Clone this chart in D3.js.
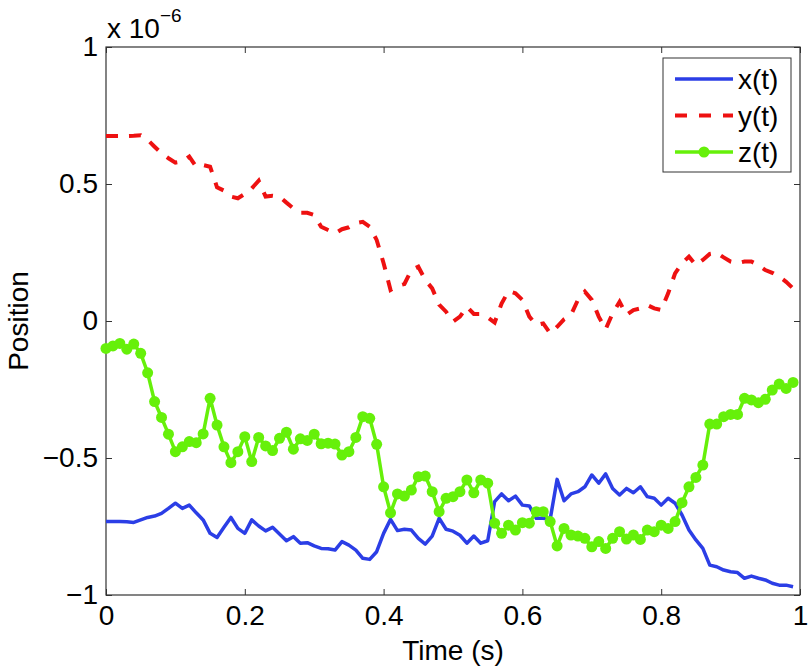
<!DOCTYPE html>
<html>
<head>
<meta charset="utf-8">
<script src="https://cdn.jsdelivr.net/npm/d3@7"></script>
<style>
  body { margin: 0; background: #fff; }
  text { font-family: "Liberation Sans", Arial, Helvetica, sans-serif; fill: #000; }
</style>
</head>
<body>
<div id="chart"><svg></svg></div>
<script>
// sample times (s)
const time = [
  0.00, 0.01, 0.02, 0.03, 0.04, 0.05, 0.06, 0.07, 0.08, 0.09,
  0.10, 0.11, 0.12, 0.13, 0.14, 0.15, 0.16, 0.17, 0.18, 0.19,
  0.20, 0.21, 0.22, 0.23, 0.24, 0.25, 0.26, 0.27, 0.28, 0.29,
  0.30, 0.31, 0.32, 0.33, 0.34, 0.35, 0.36, 0.37, 0.38, 0.39,
  0.40, 0.41, 0.42, 0.43, 0.44, 0.45, 0.46, 0.47, 0.48, 0.49,
  0.50, 0.51, 0.52, 0.53, 0.54, 0.55, 0.56, 0.57, 0.58, 0.59,
  0.60, 0.61, 0.62, 0.63, 0.64, 0.65, 0.66, 0.67, 0.68, 0.69,
  0.70, 0.71, 0.72, 0.73, 0.74, 0.75, 0.76, 0.77, 0.78, 0.79,
  0.80, 0.81, 0.82, 0.83, 0.84, 0.85, 0.86, 0.87, 0.88, 0.89,
  0.90, 0.91, 0.92, 0.93, 0.94, 0.95, 0.96, 0.97, 0.98, 0.99
];

// positions in units of 1e-6
const xPos = [
  -0.732, -0.732, -0.732, -0.733, -0.735, -0.726, -0.717, -0.712, -0.702, -0.684,
  -0.665, -0.684, -0.672, -0.700, -0.726, -0.775, -0.790, -0.753, -0.717, -0.757,
  -0.775, -0.726, -0.748, -0.766, -0.753, -0.777, -0.802, -0.787, -0.811, -0.809,
  -0.821, -0.830, -0.831, -0.836, -0.805, -0.818, -0.836, -0.866, -0.870, -0.842,
  -0.775, -0.724, -0.765, -0.760, -0.763, -0.793, -0.814, -0.785, -0.720, -0.760,
  -0.767, -0.782, -0.811, -0.785, -0.811, -0.802, -0.659, -0.631, -0.656, -0.639,
  -0.672, -0.675, -0.720, -0.720, -0.724, -0.578, -0.656, -0.631, -0.623, -0.605,
  -0.562, -0.592, -0.558, -0.611, -0.635, -0.611, -0.627, -0.605, -0.641, -0.647,
  -0.672, -0.647, -0.665, -0.708, -0.763, -0.799, -0.830, -0.891, -0.897, -0.909,
  -0.915, -0.918, -0.939, -0.931, -0.939, -0.945, -0.957, -0.964, -0.964, -0.970
];

const yPos = [
  0.675, 0.675, 0.675, 0.675, 0.676, 0.678, 0.661, 0.636, 0.612, 0.594,
  0.578, 0.582, 0.600, 0.563, 0.569, 0.563, 0.488, 0.476, 0.454, 0.448,
  0.464, 0.484, 0.512, 0.454, 0.457, 0.454, 0.432, 0.411, 0.395, 0.395,
  0.387, 0.344, 0.332, 0.320, 0.335, 0.342, 0.357, 0.362, 0.344, 0.296,
  0.211, 0.113, 0.128, 0.135, 0.186, 0.198, 0.150, 0.119, 0.060, 0.034,
  -0.002, 0.016, 0.052, 0.026, 0.026, 0.013, -0.006, 0.064, 0.109, 0.101,
  0.077, 0.016, -0.015, -0.009, -0.045, -0.021, 0.006, 0.022, 0.077, 0.107,
  0.077, 0.016, -0.030, 0.028, 0.070, 0.022, 0.040, 0.046, 0.058, 0.046,
  0.040, 0.101, 0.174, 0.211, 0.235, 0.204, 0.223, 0.245, 0.249, 0.232,
  0.217, 0.211, 0.217, 0.217, 0.204, 0.186, 0.176, 0.162, 0.143, 0.119
];

const zPos = [
  -0.100, -0.091, -0.082, -0.103, -0.084, -0.118, -0.189, -0.294, -0.352, -0.413,
  -0.477, -0.459, -0.440, -0.444, -0.412, -0.282, -0.380, -0.459, -0.517, -0.477,
  -0.422, -0.513, -0.425, -0.456, -0.473, -0.428, -0.406, -0.468, -0.430, -0.436,
  -0.413, -0.448, -0.446, -0.449, -0.489, -0.477, -0.425, -0.349, -0.355, -0.450,
  -0.605, -0.700, -0.631, -0.639, -0.617, -0.568, -0.566, -0.623, -0.696, -0.647,
  -0.641, -0.623, -0.580, -0.627, -0.580, -0.592, -0.738, -0.775, -0.745, -0.763,
  -0.736, -0.738, -0.696, -0.696, -0.732, -0.821, -0.757, -0.781, -0.785, -0.793,
  -0.824, -0.805, -0.830, -0.793, -0.769, -0.796, -0.781, -0.797, -0.763, -0.769,
  -0.745, -0.757, -0.732, -0.663, -0.605, -0.571, -0.526, -0.376, -0.376, -0.349,
  -0.341, -0.341, -0.282, -0.288, -0.298, -0.286, -0.252, -0.230, -0.246, -0.224
];

const xTicks = [0, 0.2, 0.4, 0.6, 0.8, 1];
const xTickLabels = ["0", "0.2", "0.4", "0.6", "0.8", "1"];
const yTicks = [-1, -0.5, 0, 0.5, 1];
const yTickLabels = ["\u22121", "\u22120.5", "0", "0.5", "1"];
const seriesNames = ["x(t)", "y(t)", "z(t)"];

const W = 810, H = 667;
const margin = {left: 106, top: 47, right: 10, bottom: 72};
const innerW = W - margin.left - margin.right;
const innerH = H - margin.top - margin.bottom;
const FONT = 28;

const BLUE = "#2b3ee6", RED = "#ee1111", GREEN = "#66f00a";

const svg = d3.select("#chart svg").attr("width", W).attr("height", H);
const g = svg.append("g").attr("transform", `translate(${margin.left},${margin.top})`);

const x = d3.scaleLinear().domain([0, 1]).range([0, innerW]);
const y = d3.scaleLinear().domain([-1, 1]).range([innerH, 0]);

// axes, ticks pointing inward like matlab
const xAxis = d3.axisBottom(x).tickValues(xTicks)
  .tickFormat((d, i) => xTickLabels[i]).tickSize(-6).tickPadding(10);
const yAxis = d3.axisLeft(y).tickValues(yTicks)
  .tickFormat((d, i) => yTickLabels[i]).tickSize(-6).tickPadding(8);

function styleAxis(sel) {
  sel.select(".domain").remove();
  sel.selectAll(".tick line").attr("stroke", "#333").attr("stroke-width", 1);
  sel.selectAll(".tick text").attr("font-size", FONT)
    .attr("font-family", "Liberation Sans, Arial, sans-serif").attr("fill", "#000");
}

g.append("g").attr("transform", `translate(0,${innerH})`).call(xAxis).call(styleAxis);
g.append("g").call(yAxis).call(styleAxis);
g.append("g").call(d3.axisTop(x).tickValues(xTicks).tickFormat("").tickSize(-6)).call(styleAxis);
g.append("g").attr("transform", `translate(${innerW},0)`)
  .call(d3.axisRight(y).tickValues(yTicks).tickFormat("").tickSize(-6)).call(styleAxis);

// box
g.append("rect").attr("width", innerW).attr("height", innerH)
  .attr("fill", "none").attr("stroke", "#333").attr("stroke-width", 1.2);

// lines
const line = d3.line().x((d, i) => x(time[i])).y(d => y(d));

g.append("path").datum(xPos).attr("d", line)
  .attr("fill", "none").attr("stroke", BLUE).attr("stroke-width", 3.5)
  .attr("stroke-linejoin", "round");

g.append("path").datum(yPos).attr("d", line)
  .attr("fill", "none").attr("stroke", RED).attr("stroke-width", 4)
  .attr("stroke-dasharray", "12,11");

g.append("path").datum(zPos).attr("d", line)
  .attr("fill", "none").attr("stroke", GREEN).attr("stroke-width", 3.5)
  .attr("stroke-linejoin", "round");

g.append("g").selectAll("circle").data(zPos).join("circle")
  .attr("cx", (d, i) => x(time[i])).attr("cy", d => y(d))
  .attr("r", 5.5).attr("fill", GREEN);

// exponent label
const expo = svg.append("text").attr("x", margin.left + 1).attr("y", 38).attr("font-size", FONT);
expo.append("tspan").text("x 10");
expo.append("tspan").attr("dy", -16).attr("font-size", 19).text("\u22126");

// axis titles
svg.append("text").attr("x", margin.left + innerW / 2).attr("y", 660)
  .attr("text-anchor", "middle").attr("font-size", FONT).text("Time (s)");
svg.append("text").attr("transform", `translate(28,${margin.top + innerH / 2}) rotate(-90)`)
  .attr("text-anchor", "middle").attr("font-size", FONT).text("Position");

// legend
const leg = svg.append("g").attr("transform", "translate(663,58)");
leg.append("rect").attr("width", 128).attr("height", 114)
  .attr("fill", "#fff").attr("stroke", "#333").attr("stroke-width", 1);
const rows = [
  {name: seriesNames[0], color: BLUE, dash: null, marker: false},
  {name: seriesNames[1], color: RED, dash: "12,12", marker: false},
  {name: seriesNames[2], color: GREEN, dash: null, marker: true}
];
rows.forEach((r, i) => {
  const cy = 21 + i * 36.5;
  leg.append("line").attr("x1", 12).attr("x2", 70).attr("y1", cy).attr("y2", cy)
    .attr("stroke", r.color).attr("stroke-width", r.dash ? 4 : 3.5)
    .attr("stroke-dasharray", r.dash);
  if (r.marker) leg.append("circle").attr("cx", 41).attr("cy", cy).attr("r", 5.5).attr("fill", r.color);
  leg.append("text").attr("x", 75).attr("y", cy + 10).attr("font-size", FONT).text(r.name);
});
</script>
</body>
</html>
